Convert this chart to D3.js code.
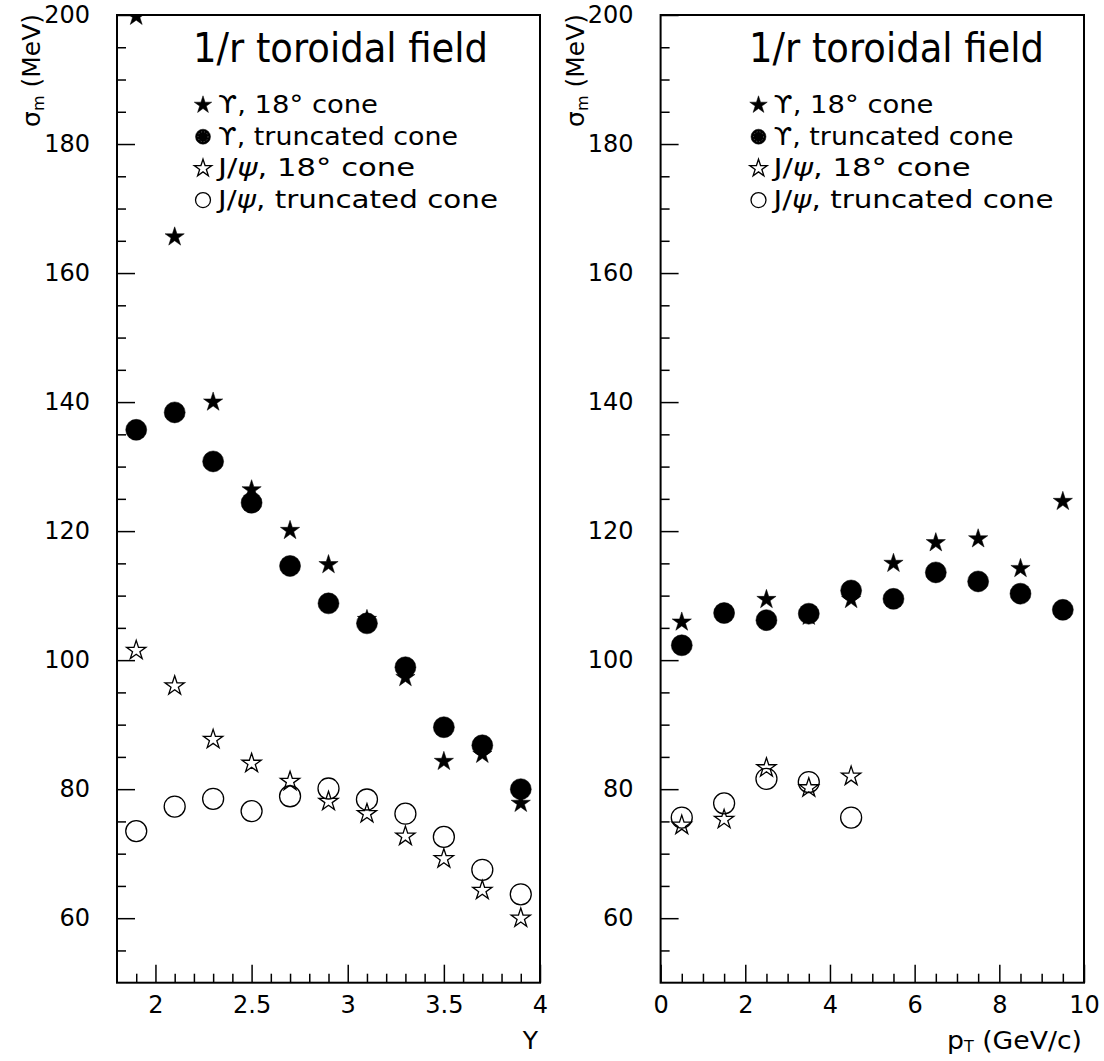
<!DOCTYPE html>
<html>
<head>
<meta charset="utf-8">
<script src="https://cdn.jsdelivr.net/npm/d3@7"></script>
<style>
  body { margin: 0; background: #fff; }
  text { font-family: "DejaVu Sans", sans-serif; fill: #000; }
</style>
</head>
<body>
<div id="chart"></div>
<script>
// data
var rapidity = [1.9, 2.1, 2.3, 2.5, 2.7, 2.9, 3.1, 3.3, 3.5, 3.7, 3.9];
var upsStarY  = [199.8, 165.6, 140.0, 126.4, 120.1, 114.8, 106.3, 97.3, 84.3, 85.4, 77.8];
var upsTruncY = [135.7, 138.4, 130.8, 124.4, 114.6, 108.8, 105.7, 98.9, 89.6, 86.8, 80.0];
var psiStarY  = [101.5, 96.0, 87.7, 84.0, 81.2, 78.1, 76.2, 72.7, 69.2, 64.3, 60.0];
var psiTruncY = [73.5, 77.3, 78.5, 76.6, 78.9, 80.1, 78.4, 76.2, 72.6, 67.5, 63.7];

var ptBins = [0.5, 1.5, 2.5, 3.5, 4.5, 5.5, 6.5, 7.5, 8.5, 9.5];
var upsStarPt  = [105.9, 107.3, 109.4, 106.8, 109.4, 115.0, 118.2, 118.8, 114.2, 124.6];
var upsTruncPt = [102.3, 107.3, 106.2, 107.2, 110.8, 109.5, 113.6, 112.2, 110.3, 107.8];
var psiStarPt  = [74.4, 75.3, 83.3, 80.2, 82.0];
var psiTruncPt = [75.6, 77.8, 81.6, 81.1, 75.6];

var yMajor = [60, 80, 100, 120, 140, 160, 180, 200];
var yMinor = [55, 65, 70, 75, 85, 90, 95, 105, 110, 115, 125, 130, 135, 145, 150, 155, 165, 170, 175, 185, 190, 195];
var xMajorY = [2, 2.5, 3, 3.5, 4];
var xMinorY = [1.9, 2.1, 2.2, 2.3, 2.4, 2.6, 2.7, 2.8, 2.9, 3.1, 3.2, 3.3, 3.4, 3.6, 3.7, 3.8, 3.9];
var xMajorPt = [0, 2, 4, 6, 8, 10];
var xMinorPt = [0.5, 1, 1.5, 2.5, 3, 3.5, 4.5, 5, 5.5, 6.5, 7, 7.5, 8.5, 9, 9.5];

var legendLabels = ["ϒ, 18° cone", "ϒ, truncated cone", "J/ψ, 18° cone", "J/ψ, truncated cone"];

var svgWidth = 1104;
var svgHeight = 1061;
var plotTop = 15, plotBottom = 982.7;

var svg = d3.select("#chart")
    .append("svg")
    .attr("width", svgWidth)
    .attr("height", svgHeight);

var yScale = d3.scaleLinear().domain([50, 200]).range([plotBottom, plotTop]);

var starSym = d3.symbol().type(d3.symbolStar).size(115);
var circSym = d3.symbol().type(d3.symbolCircle).size(Math.PI * 10.5 * 10.5);

function drawPanel(p) {
    var x = d3.scaleLinear().domain(p.domain).range([p.left, p.right]);
    var g = svg.append("g");

    // clip so the point sitting on 200 is cut by the frame
    var clipId = "clip" + p.id;
    svg.append("clipPath").attr("id", clipId)
        .append("rect")
        .attr("x", p.left).attr("y", plotTop)
        .attr("width", p.right - p.left).attr("height", plotBottom - plotTop);

    // axes (ticks pointing inward)
    g.append("g").attr("transform", `translate(${p.left},0)`)
        .call(d3.axisLeft(yScale).tickValues(yMajor).tickSize(-18).tickPadding(27).tickFormat(d3.format("d")));
    g.append("g").attr("transform", `translate(${p.left},0)`)
        .call(d3.axisLeft(yScale).tickValues(yMinor).tickSize(-9).tickFormat(""));
    g.append("g").attr("transform", `translate(0,${plotBottom})`)
        .call(d3.axisBottom(x).tickValues(p.major).tickSize(-18).tickPadding(13).tickFormat(p.fmt));
    g.append("g").attr("transform", `translate(0,${plotBottom})`)
        .call(d3.axisBottom(x).tickValues(p.minor).tickSize(-9).tickFormat(""));

    g.selectAll(".domain").remove();
    g.selectAll(".tick line").attr("stroke", "#000").attr("stroke-width", 1.5);
    g.selectAll(".tick text").attr("font-size", 24).attr("font-family", "DejaVu Sans").attr("fill", "#000");

    // frame
    g.append("rect")
        .attr("x", p.left).attr("y", plotTop)
        .attr("width", p.right - p.left).attr("height", plotBottom - plotTop)
        .attr("fill", "none").attr("stroke", "#000").attr("stroke-width", 2);

    // points
    var pts = g.append("g").attr("clip-path", `url(#${clipId})`);
    function mark(xs, ys, sym, filled) {
        pts.selectAll(null)
            .data(ys.map(function(v, i) { return [xs[i], v]; }))
            .enter().append("path")
            .attr("d", sym)
            .attr("transform", d => `translate(${x(d[0])},${yScale(d[1])})`)
            .attr("fill", filled ? "#000" : "none")
            .attr("stroke", "#000")
            .attr("stroke-width", filled ? 0.5 : 1.3);
    }
    mark(p.xs, p.psiStar, starSym, false);
    mark(p.xs, p.psiTrunc, circSym, false);
    mark(p.xs, p.upsStar, starSym, true);
    mark(p.xs, p.upsTrunc, circSym, true);

    // title
    g.append("text")
        .attr("x", p.titleX).attr("y", 62)
        .attr("font-size", 40)
        .attr("textLength", 295).attr("lengthAdjust", "spacingAndGlyphs")
        .text("1/r toroidal field");

    // legend
    var legStar = d3.symbol().type(d3.symbolStar).size(95);
    var legCirc = d3.symbol().type(d3.symbolCircle).size(Math.PI * 7.5 * 7.5);
    var legWidths = [160, 240, 197, 280];
    legendLabels.forEach(function(lab, i) {
        var cy = 105 + 31.7 * i;
        var isStar = (i % 2 === 0);
        var filled = (i < 2);
        g.append("path")
            .attr("d", isStar ? legStar : legCirc)
            .attr("transform", `translate(${p.legX},${cy})`)
            .attr("fill", filled ? "#000" : "none")
            .attr("stroke", "#000")
            .attr("stroke-width", filled ? 0.5 : 1.3);
        if (i === 1) {
            g.append("circle").attr("cx", p.legX).attr("cy", cy).attr("r", 5)
                .attr("fill", "none").attr("stroke", "#777").attr("stroke-width", 0.8)
                .attr("stroke-dasharray", "1,2");
        }
        var t = g.append("text")
            .attr("x", p.legX + 15).attr("y", cy + 8)
            .attr("font-size", 24)
            .attr("textLength", legWidths[i]).attr("lengthAdjust", "spacingAndGlyphs");
        if (i < 2) {
            t.text(lab);
        } else {
            t.append("tspan").text("J/");
            t.append("tspan").attr("font-style", "italic").text("ψ");
            t.append("tspan").text(lab.slice(3));
        }
    });

    // y label
    var yl = g.append("text")
        .attr("transform", `translate(${p.left - 77},14) rotate(-90)`)
        .attr("text-anchor", "end")
        .attr("font-size", 25);
    yl.append("tspan").text("σ");
    yl.append("tspan").attr("font-size", 16).attr("dy", 4).text("m");
    yl.append("tspan").attr("dy", -4).text(" (MeV)");

    // x label
    var xl = g.append("text")
        .attr("x", p.right - 2).attr("y", 1049)
        .attr("text-anchor", "end")
        .attr("font-size", 25);
    if (p.id === "L") {
        xl.text("Y");
    } else {
        xl.attr("textLength", 135).attr("lengthAdjust", "spacingAndGlyphs");
        xl.append("tspan").text("p");
        xl.append("tspan").attr("font-size", 15).attr("dy", 3).text("T");
        xl.append("tspan").attr("dy", -3).text(" (GeV/c)");
    }
}

drawPanel({
    id: "L", left: 117, right: 540, domain: [1.8, 4],
    major: xMajorY, minor: xMinorY, fmt: d3.format("~g"),
    xs: rapidity, upsStar: upsStarY, upsTrunc: upsTruncY, psiStar: psiStarY, psiTrunc: psiTruncY,
    titleX: 193, legX: 203
});

drawPanel({
    id: "R", left: 660.6, right: 1084, domain: [0, 10],
    major: xMajorPt, minor: xMinorPt, fmt: d3.format("d"),
    xs: ptBins, upsStar: upsStarPt, upsTrunc: upsTruncPt, psiStar: psiStarPt, psiTrunc: psiTruncPt,
    titleX: 749, legX: 758.5
});
</script>
</body>
</html>
